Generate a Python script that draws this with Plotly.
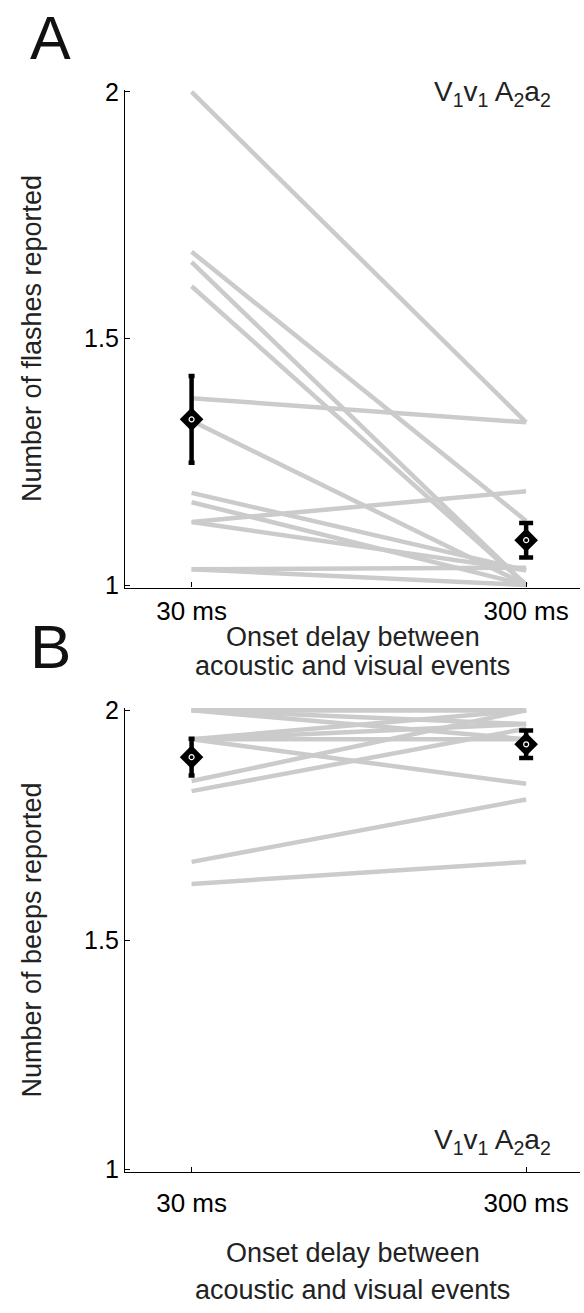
import plotly.graph_objects as go

# ---------------- data ----------------
delays = ["30 ms", "300 ms"]
delay_pos = [1, 2]

# Panel A: number of flashes reported, per subject (30 ms, 300 ms)
flashes_30 = [2.0, 1.676, 1.655, 1.606, 1.379, 1.333, 1.187, 1.168, 1.128, 1.128, 1.032, 1.032]
flashes_300 = [1.33, 1.13, 1.0, 1.0, 1.33, 1.0, 1.03, 1.0, 1.19, 1.03, 1.035, 1.0]
flashes_mean = [1.336, 1.091]
flashes_err = [0.088, 0.035]

# Panel B: number of beeps reported, per subject (30 ms, 300 ms)
beeps_30 = [2.0, 2.0, 2.0, 1.937, 1.937, 1.937, 1.937, 1.846, 1.824, 1.67, 1.622, 2.0]
beeps_300 = [2.0, 1.97, 1.937, 1.84, 1.937, 2.0, 1.97, 2.0, 1.96, 1.806, 1.67, 2.0]
beeps_mean = [1.898, 1.926]
beeps_err = [0.04, 0.03]

y_ticks = [1, 1.5, 2]
y_ticktext = ["1", "1.5", "2"]

x_title_lines = ["Onset delay between", "acoustic and visual events"]

FONT = "Liberation Sans, Arial, sans-serif"
GRAY = "#cbcbcb"
W, H = 584, 1313

fig = go.Figure()


def add_panel(v30, v300, means, errs, xa, ya):
    for a, b in zip(v30, v300):
        fig.add_trace(go.Scatter(
            x=delay_pos, y=[a, b], mode="lines",
            line=dict(color=GRAY, width=4.5),
            xaxis=xa, yaxis=ya, showlegend=False, hoverinfo="skip"))
    caps = [3, 7]
    for i in range(2):
        fig.add_trace(go.Scatter(
            x=[delay_pos[i]], y=[means[i]], mode="markers",
            marker=dict(symbol="diamond", size=16, color="black",
                        line=dict(color="black", width=2)),
            error_y=dict(type="data", array=[errs[i]], color="black",
                         thickness=4.5, width=caps[i]),
            xaxis=xa, yaxis=ya, showlegend=False, cliponaxis=False))
        fig.add_trace(go.Scatter(
            x=[delay_pos[i]], y=[means[i]], mode="markers",
            marker=dict(symbol="circle-open", size=5, color="white",
                        line=dict(color="white", width=1.2)),
            xaxis=xa, yaxis=ya, showlegend=False, cliponaxis=False,
            hoverinfo="skip"))


add_panel(flashes_30, flashes_300, flashes_mean, flashes_err, "x", "y")
add_panel(beeps_30, beeps_300, beeps_mean, beeps_err, "x2", "y2")

xdom = [125 / W, 580 / W]
xrange = [0.801, 2.161]


def ydom(top_px, bottom_px):
    return [1 - bottom_px / H, 1 - top_px / H]


def xaxis_style(standoff):
    return dict(
        domain=xdom, range=xrange, tickvals=delay_pos, ticktext=delays,
        ticks="inside", ticklen=5, tickwidth=1.2, tickcolor="black",
        showline=True, linecolor="black", linewidth=1.3, showgrid=False,
        zeroline=False, automargin=False, ticklabelstandoff=standoff,
        tickfont=dict(family=FONT, size=26, color="black"),
    )


ycommon = dict(
    range=[0.995, 2.005], tickvals=y_ticks, ticktext=y_ticktext,
    ticks="inside", ticklen=5, tickwidth=1.2, tickcolor="black",
    showline=True, linecolor="black", linewidth=1.3, showgrid=False,
    zeroline=False, automargin=False,
    tickfont=dict(family=FONT, size=25, color="black"),
)

fig.update_layout(
    width=W, height=H,
    margin=dict(l=0, r=0, t=0, b=0),
    paper_bgcolor="white", plot_bgcolor="white",
    xaxis=dict(anchor="y", **xaxis_style(0)),
    yaxis=dict(domain=ydom(89.5, 587.5), anchor="x",
               title=dict(text="Number of flashes reported",
                          font=dict(family=FONT, size=27, color="#222"),
                          standoff=34),
               **ycommon),
    xaxis2=dict(anchor="y2", **xaxis_style(8)),
    yaxis2=dict(domain=ydom(708, 1172), anchor="x2",
                title=dict(text="Number of beeps reported",
                           font=dict(family=FONT, size=27, color="#222"),
                           standoff=34),
                **ycommon),
)

xmid = (125 + 580) / 2 / W
label = "V<sub>1</sub>v<sub>1</sub> A<sub>2</sub>a<sub>2</sub>"
ann = [
    dict(text="A", x=28 / W, y=1 - 2 / H, xanchor="left", yanchor="top",
         font=dict(family=FONT, size=61, color="#111")),
    dict(text="B", x=28 / W, y=1 - 646 / H, xanchor="left", yanchor="middle",
         font=dict(family=FONT, size=62, color="#111")),
    dict(text=label, x=553 / W, y=1 - 94 / H, xanchor="right", yanchor="middle",
         font=dict(family=FONT, size=28, color="#222")),
    dict(text=label, x=553 / W, y=1 - 1141 / H, xanchor="right", yanchor="middle",
         font=dict(family=FONT, size=28, color="#222")),
    # x-axis titles (two lines each)
    dict(text=x_title_lines[0], x=xmid, y=1 - 637 / H, xanchor="center", yanchor="middle",
         font=dict(family=FONT, size=27, color="#222")),
    dict(text=x_title_lines[1], x=xmid, y=1 - 666 / H, xanchor="center", yanchor="middle",
         font=dict(family=FONT, size=27, color="#222")),
    dict(text=x_title_lines[0], x=xmid, y=1 - 1253 / H, xanchor="center", yanchor="middle",
         font=dict(family=FONT, size=27, color="#222")),
    dict(text=x_title_lines[1], x=xmid, y=1 - 1290 / H, xanchor="center", yanchor="middle",
         font=dict(family=FONT, size=27, color="#222")),
]
for a in ann:
    a.update(xref="paper", yref="paper", showarrow=False)
fig.update_layout(annotations=ann)

fig.write_html("out.html")
